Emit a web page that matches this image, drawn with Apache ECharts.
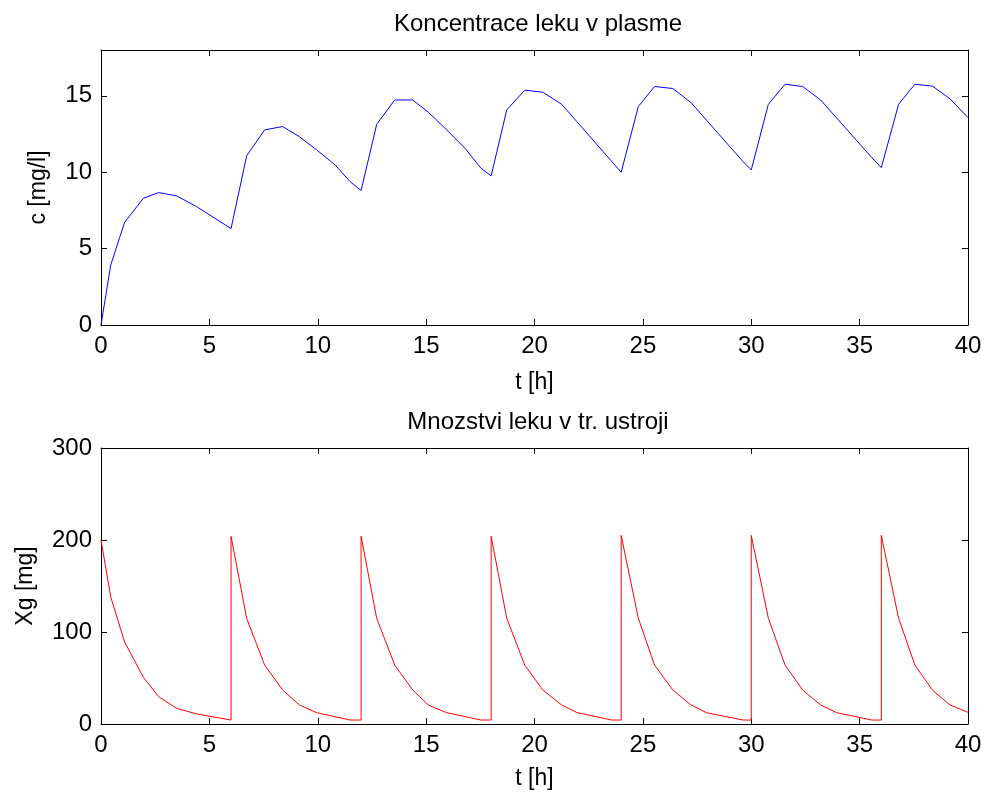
<!DOCTYPE html>
<html>
<head>
<meta charset="utf-8">
<script src="https://cdn.jsdelivr.net/npm/echarts@6/dist/echarts.min.js"></script>
<style>html,body{margin:0;padding:0;background:#fff}#c{width:987px;height:796px}</style>
</head>
<body>
<div id="c"></div>
<script>
// time points [h] (dose times repeated so the Xg jump is vertical)
const timeH = [
  0, 0.45, 1.09, 1.95, 2.66, 3.49, 4.41, 6, 6,
  6.72, 7.55, 8.38, 9.15, 9.95, 10.80, 11.49, 12, 12,
  12.72, 13.55, 14.38, 15.10, 15.95, 16.79, 17.53, 18, 18,
  18.72, 19.55, 20.38, 21.25, 21.95, 23.56, 24, 24,
  24.79, 25.54, 26.38, 27.22, 27.94, 29.63, 30, 30,
  30.79, 31.56, 32.37, 33.20, 33.94, 35.56, 36, 36,
  36.80, 37.55, 38.37, 39.17, 40
];
// concentration in plasma c [mg/l]
const concC = [
  0, 3.93, 6.72, 8.29, 8.67, 8.45, 7.75, 6.31, 6.31,
  11.07, 12.77, 12.99, 12.33, 11.46, 10.48, 9.39, 8.80, 8.80,
  13.14, 14.73, 14.73, 13.93, 12.77, 11.57, 10.26, 9.76, 9.76,
  14.08, 15.37, 15.24, 14.45, 13.32, 10.71, 10.00, 10.00,
  14.30, 15.61, 15.48, 14.56, 13.40, 10.68, 10.15, 10.15,
  14.45, 15.76, 15.61, 14.73, 13.55, 10.96, 10.30, 10.30,
  14.45, 15.76, 15.63, 14.80, 13.58
];
// amount in GI tract Xg [mg]
const amountXg = [
  200, 138, 89, 51, 29.7, 17, 11, 4.3, 204,
  114.9, 64, 37, 20.7, 12.3, 7.9, 4.3, 4.3, 204,
  114.9, 64, 37, 20.7, 12.3, 8.1, 4.3, 4.3, 204,
  114.9, 64, 37, 20.7, 12.5, 4.3, 4.3, 205,
  114.9, 64, 37, 20.7, 12.3, 4.3, 4.3, 205,
  114.9, 64, 37, 20.7, 12.3, 4.3, 4.3, 205,
  114.9, 64, 36.5, 20.7, 12.7
];
const xTicks = [0, 5, 10, 15, 20, 25, 30, 35, 40];
const cTicks = [0, 5, 10, 15];
const xgTicks = [0, 100, 200, 300];

const FONT = "'Liberation Sans', Arial, sans-serif";
const TICK_FS = 24, NAME_FS = 23, TITLE_FS = 24;
const chart = echarts.init(document.getElementById('c'), null, {renderer: 'canvas'});

function pairs(t, v) { return t.map((x, i) => [x, v[i]]); }

const lineStyleAxis = {color: '#000', width: 1};
function xAxisMain(gi, gap) {
  return {
    type: 'value', gridIndex: gi, min: xTicks[0], max: xTicks[xTicks.length - 1], interval: 5,
    position: 'bottom',
    axisLine: {show: true, onZero: false, lineStyle: lineStyleAxis},
    axisTick: {show: true, inside: true, length: 6, lineStyle: lineStyleAxis},
    axisLabel: {color: '#000', fontFamily: FONT, fontSize: TICK_FS, margin: 9},
    splitLine: {show: false},
    name: 't [h]', nameLocation: 'middle', nameGap: gap,
    nameTextStyle: {color: '#000', fontFamily: FONT, fontSize: NAME_FS}
  };
}
function xAxisTop(gi) {
  return {
    type: 'value', gridIndex: gi, min: xTicks[0], max: xTicks[xTicks.length - 1], interval: 5,
    position: 'top',
    axisLine: {show: true, onZero: false, lineStyle: lineStyleAxis},
    axisTick: {show: true, inside: true, length: 6, lineStyle: lineStyleAxis},
    axisLabel: {show: false}, splitLine: {show: false}
  };
}
function yAxis(gi, ticks, max, interval, name, gap, pos, labels) {
  return {
    type: 'value', gridIndex: gi, min: ticks[0], max: max, interval: interval,
    position: pos,
    axisLine: {show: true, onZero: false, lineStyle: lineStyleAxis},
    axisTick: {show: true, inside: true, length: 6, lineStyle: lineStyleAxis},
    axisLabel: labels ? {color: '#000', fontFamily: FONT, fontSize: TICK_FS, margin: 9, showMaxLabel: max === ticks[ticks.length - 1]} : {show: false},
    splitLine: {show: false},
    name: labels ? name : '', nameLocation: 'middle', nameGap: gap,
    nameTextStyle: {color: '#000', fontFamily: FONT, fontSize: NAME_FS}
  };
}

chart.setOption({
  animation: false,
  backgroundColor: '#fff',
  title: [
    {text: 'Koncentrace leku v plasme', left: 533, top: 7, textAlign: 'center',
     textStyle: {color: '#000', fontFamily: FONT, fontSize: TITLE_FS, fontWeight: 'normal'}},
    {text: 'Mnozstvi leku v tr. ustroji', left: 533, top: 405, textAlign: 'center',
     textStyle: {color: '#000', fontFamily: FONT, fontSize: TITLE_FS, fontWeight: 'normal'}}
  ],
  grid: [
    {left: 101, top: 50, width: 867, height: 275},
    {left: 101, top: 448, width: 867, height: 276}
  ],
  xAxis: [xAxisMain(0, 46), xAxisTop(0), xAxisMain(1, 43), xAxisTop(1)],
  yAxis: [
    yAxis(0, cTicks, 18, 5, 'c [mg/l]', 51, 'left', true),
    yAxis(0, cTicks, 18, 5, '', 0, 'right', false),
    yAxis(1, xgTicks, 300, 100, 'Xg [mg]', 64, 'left', true),
    yAxis(1, xgTicks, 300, 100, '', 0, 'right', false)
  ],
  series: [
    {type: 'line', xAxisIndex: 0, yAxisIndex: 0, data: pairs(timeH, concC), showSymbol: false,
     lineStyle: {color: '#0000ff', width: 1}, itemStyle: {color: '#0000ff'}},
    {type: 'line', xAxisIndex: 2, yAxisIndex: 2, data: pairs(timeH, amountXg), showSymbol: false,
     lineStyle: {color: '#ff0000', width: 1}, itemStyle: {color: '#ff0000'}}
  ]
});
</script>
</body>
</html>
